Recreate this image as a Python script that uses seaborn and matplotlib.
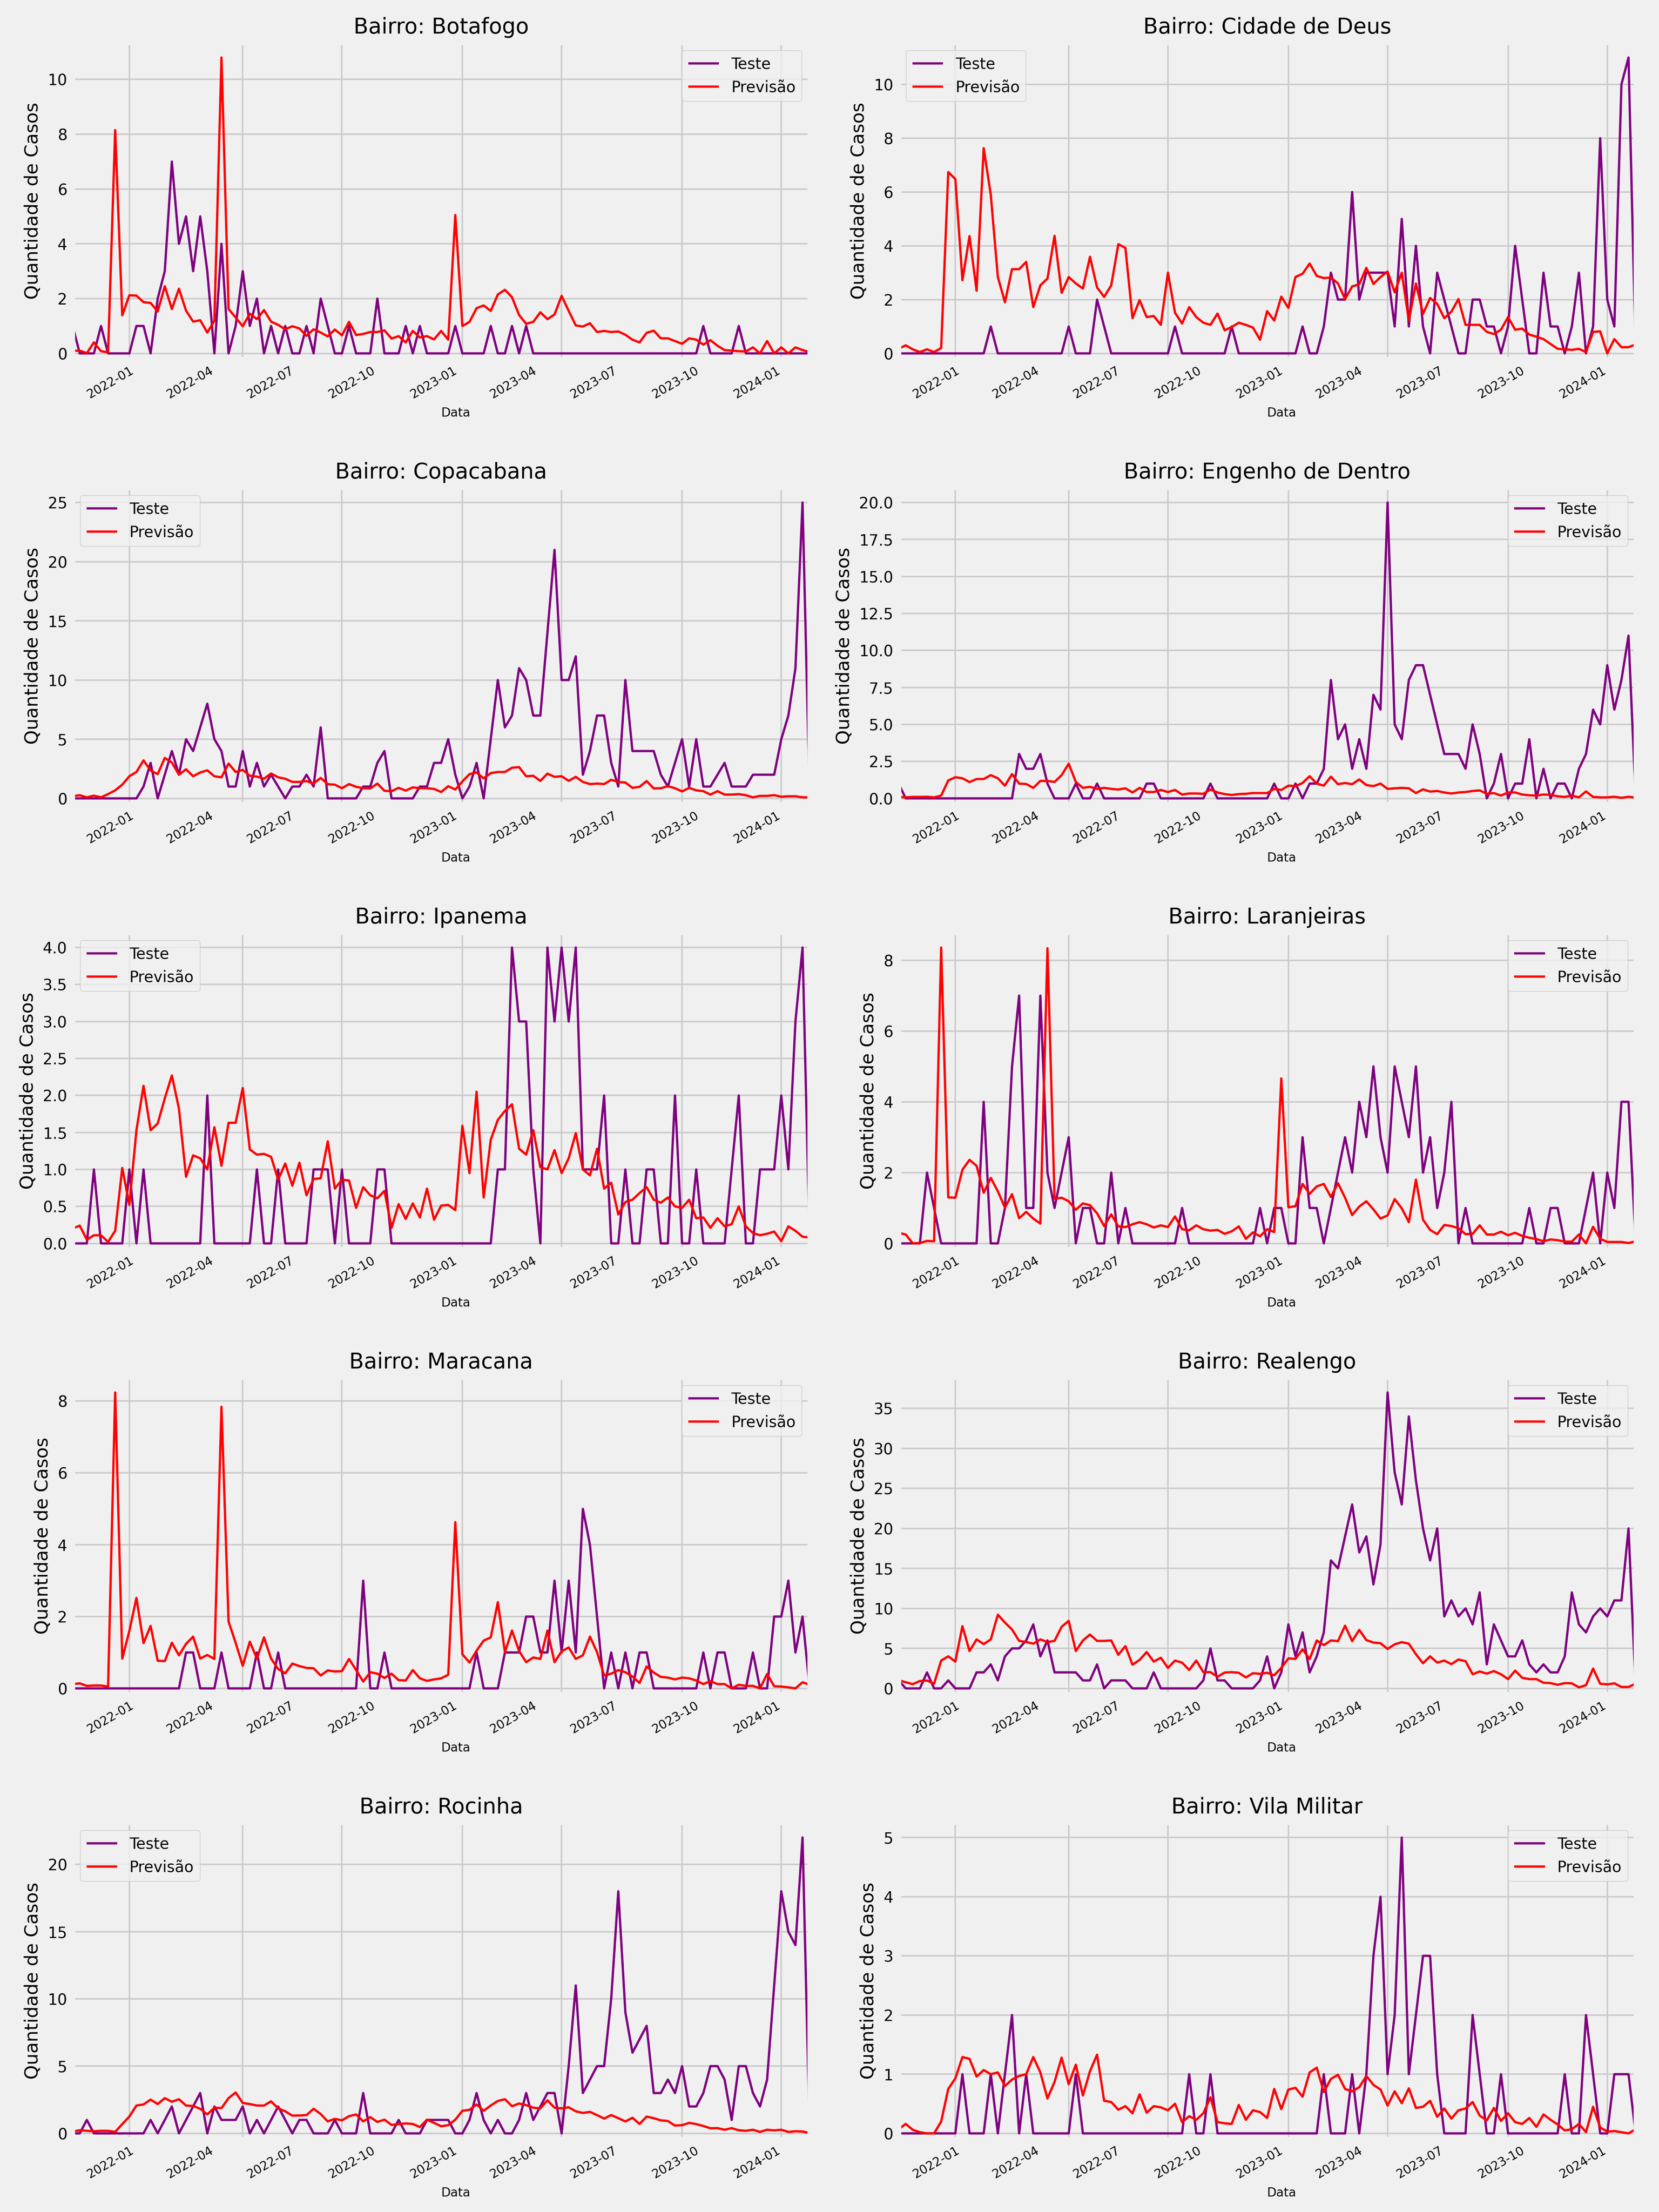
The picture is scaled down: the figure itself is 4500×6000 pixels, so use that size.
# -*- coding: utf-8 -*-
import matplotlib
matplotlib.use('Agg')
import matplotlib.pyplot as plt
import matplotlib.dates as mdates
from matplotlib.ticker import FixedLocator, MaxNLocator
import seaborn as sns
import pandas as pd

# estilo fivethirtyeight (fundo cinza claro, grade cinza, sem marcas de tick)
plt.style.use('fivethirtyeight')
plt.rcParams.update({
    'font.family': ['DejaVu Sans'],
    'legend.fontsize': 10,
})

bairros = ['Botafogo', 'Cidade de Deus', 'Copacabana', 'Engenho de Dentro', 'Ipanema',
           'Laranjeiras', 'Maracana', 'Realengo', 'Rocinha', 'Vila Militar']

# datas do conjunto de teste
datas = pd.date_range('2021-10-22', periods=105, freq='8D')

# pontos do teste onde aparecem as linhas verticais da grade
idx_grade = [8, 24, 38, 55, 69, 86, 100]

pos_legenda = ['upper right', 'upper left', 'upper left', 'upper right', 'upper left',
               'upper right', 'upper right', 'upper right', 'upper left', 'upper right']

# ----------------- valores (casos reais x previsao) -----------------
botafogo_teste = [1, 0, 0, 0, 1, 0, 0, 0, 0, 1, 1, 0, 2, 3, 7, 4, 5, 3, 5, 3,
                  0, 4, 0, 1, 3, 1, 2, 0, 1, 0, 1, 0, 0, 1, 0, 2, 1, 0, 0, 1,
                  0, 0, 0, 2, 0, 0, 0, 1, 0, 1, 0, 0, 0, 0, 1, 0, 0, 0, 0, 1,
                  0, 0, 1, 0, 1, 0, 0, 0, 0, 0, 0, 0, 0, 0, 0, 0, 0, 0, 0, 0,
                  0, 0, 0, 0, 0, 0, 0, 0, 0, 1, 0, 0, 0, 0, 1, 0, 0, 0, 0, 0,
                  0, 0, 0, 0, 0]
botafogo_prev = [0.09, 0.1, 0.01, 0.4, 0.08, 0.04, 8.15, 1.39, 2.12, 2.11,
                 1.87, 1.84, 1.53, 2.45, 1.62, 2.36, 1.56, 1.16, 1.21, 0.76,
                 1.19, 10.8, 1.62, 1.31, 0.99, 1.45, 1.25, 1.58, 1.16, 1.04,
                 0.88, 0.99, 0.91, 0.64, 0.88, 0.76, 0.62, 0.87, 0.66, 1.15,
                 0.67, 0.71, 0.78, 0.78, 0.84, 0.54, 0.63, 0.4, 0.82, 0.58,
                 0.63, 0.51, 0.82, 0.5, 5.05, 1.0, 1.15, 1.65, 1.75, 1.55,
                 2.15, 2.32, 2.05, 1.4, 1.08, 1.15, 1.5, 1.25, 1.42, 2.1,
                 1.55, 1.02, 0.98, 1.1, 0.78, 0.82, 0.78, 0.8, 0.68, 0.5,
                 0.4, 0.75, 0.83, 0.55, 0.55, 0.45, 0.35, 0.55, 0.5, 0.32,
                 0.48, 0.28, 0.12, 0.1, 0.08, 0.07, 0.22, 0.0, 0.45, 0.0,
                 0.22, 0.0, 0.22, 0.12, 0.05]

cidade_teste = [0, 0, 0, 0, 0, 0, 0, 0, 0, 0, 0, 0, 0, 1, 0, 0, 0, 0, 0, 0,
                0, 0, 0, 0, 1, 0, 0, 0, 2, 1, 0, 0, 0, 0, 0, 0, 0, 0, 0, 1,
                0, 0, 0, 0, 0, 0, 0, 1, 0, 0, 0, 0, 0, 0, 0, 0, 0, 1, 0, 0,
                1, 3, 2, 2, 6, 2, 3, 3, 3, 3, 1, 5, 1, 4, 1, 0, 3, 2, 1, 0,
                0, 2, 2, 1, 1, 0, 1, 4, 2, 0, 0, 3, 1, 1, 0, 1, 3, 0, 1, 8,
                2, 1, 10, 11, 0]
cidade_prev = [0.17, 0.3, 0.15, 0.05, 0.15, 0.05, 0.2, 6.74, 6.48, 2.72,
               4.36, 2.33, 7.63, 5.9, 2.84, 1.9, 3.13, 3.13, 3.4, 1.72,
               2.53, 2.78, 4.37, 2.25, 2.84, 2.6, 2.41, 3.59, 2.45, 2.1,
               2.53, 4.06, 3.92, 1.31, 1.98, 1.35, 1.39, 1.06, 3.0, 1.51,
               1.11, 1.72, 1.35, 1.14, 1.06, 1.48, 0.86, 0.98, 1.14, 1.06,
               0.96, 0.51, 1.57, 1.22, 2.11, 1.69, 2.84, 2.96, 3.34, 2.88,
               2.8, 2.82, 2.6, 2.02, 2.49, 2.57, 3.18, 2.58, 2.84, 3.04,
               2.27, 3.0, 1.23, 2.6, 1.47, 2.06, 1.84, 1.31, 1.55, 2.02,
               1.06, 1.06, 1.06, 0.8, 0.72, 0.88, 1.35, 0.88, 0.92, 0.7,
               0.62, 0.53, 0.35, 0.17, 0.15, 0.13, 0.17, 0.05, 0.8, 0.82,
               0.0, 0.53, 0.23, 0.23, 0.33]

copa_teste = [0, 0, 0, 0, 0, 0, 0, 0, 0, 0, 1, 3, 0, 2, 4, 2, 5, 4, 6, 8,
              5, 4, 1, 1, 4, 1, 3, 1, 2, 1, 0, 1, 1, 2, 1, 6, 0, 0, 0, 0,
              0, 1, 1, 3, 4, 0, 0, 0, 0, 1, 1, 3, 3, 5, 2, 0, 1, 3, 0, 5,
              10, 6, 7, 11, 10, 7, 7, 14, 21, 10, 10, 12, 2, 4, 7, 7, 3, 1, 10, 4,
              4, 4, 4, 2, 1, 3, 5, 1, 5, 1, 1, 2, 3, 1, 1, 1, 2, 2, 2, 2,
              5, 7, 11, 25, 0]
copa_prev = [0.18, 0.27, 0.09, 0.23, 0.09, 0.36, 0.68, 1.16, 1.87, 2.23,
             3.21, 2.35, 2.05, 3.42, 3.03, 2.0, 2.46, 1.87, 2.19, 2.37,
             1.87, 1.78, 2.94, 2.23, 2.41, 1.91, 1.84, 1.66, 2.1, 1.78,
             1.66, 1.39, 1.39, 1.46, 1.25, 1.73, 1.2, 1.16, 0.86, 1.21,
             0.98, 0.86, 0.84, 1.25, 0.64, 0.61, 0.89, 0.66, 0.93, 0.86,
             0.86, 0.8, 0.54, 1.03, 0.75, 1.43, 2.05, 2.19, 1.69, 2.14,
             2.23, 2.23, 2.59, 2.64, 1.87, 1.91, 1.48, 2.09, 1.82, 1.87,
             1.48, 1.82, 1.39, 1.21, 1.25, 1.21, 1.57, 1.39, 1.34, 0.89,
             0.98, 1.46, 0.84, 0.86, 1.03, 0.86, 0.59, 0.89, 0.68, 0.61,
             0.32, 0.61, 0.32, 0.32, 0.36, 0.27, 0.09, 0.21, 0.21, 0.27,
             0.14, 0.18, 0.18, 0.09, 0.09]

engenho_teste = [1, 0, 0, 0, 0, 0, 0, 0, 0, 0, 0, 0, 0, 0, 0, 0, 0, 3, 2, 2,
                 3, 1, 0, 0, 0, 1, 0, 0, 1, 0, 0, 0, 0, 0, 0, 1, 1, 0, 0, 0,
                 0, 0, 0, 0, 1, 0, 0, 0, 0, 0, 0, 0, 0, 1, 0, 0, 1, 0, 1, 1,
                 2, 8, 4, 5, 2, 4, 2, 7, 6, 20, 5, 4, 8, 9, 9, 7, 5, 3, 3, 3,
                 2, 5, 3, 0, 1, 3, 0, 1, 1, 4, 0, 2, 0, 1, 1, 0, 2, 3, 6, 5,
                 9, 6, 8, 11, 0]
engenho_prev = [0.1, 0.07, 0.1, 0.1, 0.11, 0.07, 0.19, 1.21, 1.43, 1.36,
                1.1, 1.31, 1.31, 1.57, 1.36, 0.86, 1.64, 1.0, 0.97, 0.71,
                1.18, 1.18, 1.11, 1.57, 2.35, 1.11, 0.71, 0.78, 0.64, 0.71,
                0.64, 0.6, 0.68, 0.4, 0.71, 0.43, 0.43, 0.57, 0.43, 0.57,
                0.26, 0.33, 0.33, 0.31, 0.6, 0.4, 0.29, 0.23, 0.29, 0.31,
                0.36, 0.36, 0.36, 0.64, 0.57, 0.86, 0.83, 1.04, 1.5, 1.0,
                0.86, 1.47, 0.96, 1.04, 0.96, 1.28, 0.9, 0.83, 1.0, 0.64,
                0.68, 0.71, 0.68, 0.36, 0.61, 0.46, 0.5, 0.4, 0.33, 0.4,
                0.43, 0.5, 0.54, 0.31, 0.36, 0.19, 0.4, 0.4, 0.26, 0.21,
                0.19, 0.26, 0.24, 0.14, 0.1, 0.19, 0.07, 0.47, 0.1, 0.07,
                0.07, 0.11, 0.04, 0.11, 0.05]

ipanema_teste = [0, 0, 0, 1, 0, 0, 0, 0, 1, 0, 1, 0, 0, 0, 0, 0, 0, 0, 0, 2,
                 0, 0, 0, 0, 0, 0, 1, 0, 0, 1, 0, 0, 0, 0, 1, 1, 1, 0, 1, 0,
                 0, 0, 0, 1, 1, 0, 0, 0, 0, 0, 0, 0, 0, 0, 0, 0, 0, 0, 0, 0,
                 1, 1, 4, 3, 3, 1, 0, 4, 3, 4, 3, 4, 1, 1, 1, 2, 0, 0, 1, 0,
                 0, 1, 1, 0, 0, 2, 0, 0, 1, 0, 0, 0, 0, 1, 2, 0, 0, 1, 1, 1,
                 2, 1, 3, 4, 0]
ipanema_prev = [0.2, 0.24, 0.05, 0.11, 0.11, 0.02, 0.17, 1.02, 0.52, 1.53,
                2.13, 1.53, 1.62, 1.96, 2.27, 1.82, 0.9, 1.19, 1.15, 1.0,
                1.57, 1.05, 1.63, 1.63, 2.1, 1.27, 1.2, 1.21, 1.17, 0.86,
                1.08, 0.78, 1.09, 0.65, 0.87, 0.88, 1.38, 0.74, 0.86, 0.85,
                0.48, 0.76, 0.65, 0.61, 0.71, 0.21, 0.53, 0.33, 0.54, 0.35,
                0.74, 0.32, 0.51, 0.52, 0.45, 1.59, 0.95, 2.05, 0.62, 1.4,
                1.67, 1.79, 1.88, 1.28, 1.2, 1.53, 1.03, 1.0, 1.26, 0.95,
                1.15, 1.49, 1.0, 0.92, 1.28, 0.74, 0.82, 0.39, 0.56, 0.59,
                0.68, 0.76, 0.59, 0.55, 0.62, 0.5, 0.48, 0.59, 0.34, 0.35,
                0.21, 0.34, 0.23, 0.26, 0.5, 0.23, 0.14, 0.11, 0.13, 0.16,
                0.03, 0.23, 0.17, 0.09, 0.08]

laranjeiras_teste = [0, 0, 0, 0, 2, 1, 0, 0, 0, 0, 0, 0, 4, 0, 0, 1, 5, 7, 1, 1,
                     7, 2, 1, 2, 3, 0, 1, 1, 0, 0, 2, 0, 1, 0, 0, 0, 0, 0, 0, 0,
                     1, 0, 0, 0, 0, 0, 0, 0, 0, 0, 0, 1, 0, 1, 1, 0, 0, 3, 1, 1,
                     0, 1, 2, 3, 2, 4, 3, 5, 3, 2, 5, 4, 3, 5, 2, 3, 1, 2, 4, 0,
                     1, 0, 0, 0, 0, 0, 0, 0, 0, 1, 0, 0, 1, 1, 0, 0, 0, 1, 2, 0,
                     2, 1, 4, 4, 0]
laranjeiras_prev = [0.3, 0.25, 0.0, 0.01, 0.07, 0.06, 8.36, 1.3, 1.29, 2.08,
                    2.36, 2.19, 1.43, 1.85, 1.47, 1.01, 1.39, 0.71, 0.89, 0.7,
                    0.56, 8.34, 1.26, 1.29, 1.19, 0.95, 1.13, 1.08, 0.85, 0.49,
                    0.82, 0.48, 0.46, 0.54, 0.6, 0.54, 0.45, 0.51, 0.46, 0.76,
                    0.4, 0.37, 0.51, 0.4, 0.36, 0.38, 0.27, 0.34, 0.48, 0.13,
                    0.31, 0.2, 0.4, 0.32, 4.66, 1.02, 1.05, 1.68, 1.4, 1.61,
                    1.68, 1.31, 1.7, 1.29, 0.8, 1.04, 1.19, 0.96, 0.7, 0.79,
                    1.25, 0.99, 0.6, 1.8, 0.67, 0.38, 0.26, 0.52, 0.49, 0.43,
                    0.26, 0.27, 0.51, 0.25, 0.25, 0.33, 0.23, 0.3, 0.21, 0.16,
                    0.12, 0.06, 0.11, 0.09, 0.05, 0.05, 0.25, 0.0, 0.47, 0.13,
                    0.04, 0.04, 0.04, 0.01, 0.06]

maracana_teste = [0, 0, 0, 0, 0, 0, 0, 0, 0, 0, 0, 0, 0, 0, 0, 0, 1, 1, 0, 0,
                  0, 1, 0, 0, 0, 0, 1, 0, 0, 1, 0, 0, 0, 0, 0, 0, 0, 0, 0, 0,
                  0, 3, 0, 0, 1, 0, 0, 0, 0, 0, 0, 0, 0, 0, 0, 0, 0, 1, 0, 0,
                  0, 1, 1, 1, 2, 2, 1, 1, 3, 1, 3, 1, 5, 4, 2, 0, 1, 0, 1, 0,
                  1, 1, 0, 0, 0, 0, 0, 0, 0, 1, 0, 1, 1, 0, 0, 0, 1, 0, 0, 2,
                  2, 3, 1, 2, 0]
maracana_prev = [0.12, 0.14, 0.07, 0.08, 0.08, 0.05, 8.24, 0.83, 1.6, 2.52,
                 1.26, 1.74, 0.77, 0.76, 1.27, 0.92, 1.24, 1.44, 0.83, 0.93,
                 0.82, 7.84, 1.86, 1.27, 0.63, 1.3, 0.83, 1.42, 0.83, 0.54,
                 0.42, 0.69, 0.62, 0.57, 0.56, 0.36, 0.5, 0.47, 0.48, 0.82,
                 0.51, 0.19, 0.45, 0.41, 0.29, 0.41, 0.23, 0.22, 0.51, 0.28,
                 0.21, 0.25, 0.28, 0.38, 4.63, 0.95, 0.72, 1.05, 1.33, 1.42,
                 2.4, 1.01, 1.61, 1.04, 0.73, 0.86, 0.82, 1.61, 0.73, 1.03,
                 1.14, 0.82, 0.92, 1.44, 1.01, 0.36, 0.41, 0.51, 0.45, 0.33,
                 0.15, 0.61, 0.44, 0.32, 0.3, 0.25, 0.3, 0.28, 0.22, 0.12,
                 0.2, 0.12, 0.12, 0.0, 0.1, 0.07, 0.07, 0.0, 0.4, 0.06,
                 0.05, 0.03, 0.0, 0.17, 0.1]

realengo_teste = [1, 0, 0, 0, 2, 0, 0, 1, 0, 0, 0, 2, 2, 3, 1, 4, 5, 5, 6, 8,
                  4, 6, 2, 2, 2, 2, 1, 1, 3, 0, 1, 1, 1, 0, 0, 0, 2, 0, 0, 0,
                  0, 0, 0, 1, 5, 1, 1, 0, 0, 0, 0, 1, 4, 0, 2, 8, 4, 7, 2, 4,
                  7, 16, 15, 19, 23, 17, 19, 13, 18, 37, 27, 23, 34, 26, 20, 16, 20, 9, 11, 9,
                  10, 8, 12, 3, 8, 6, 4, 4, 6, 3, 2, 3, 2, 2, 4, 12, 8, 7, 9, 10,
                  9, 11, 11, 20, 0]
realengo_prev = [1.03, 0.77, 0.53, 0.92, 0.98, 0.58, 3.48, 4.01, 3.35, 7.78,
                 4.67, 6.12, 5.54, 6.12, 9.21, 8.23, 7.36, 5.94, 5.8, 5.59,
                 6.12, 5.8, 5.94, 7.7, 8.44, 4.67, 5.99, 6.73, 5.94, 5.94,
                 5.99, 4.2, 5.28, 2.96, 3.56, 4.54, 3.35, 3.83, 2.56, 3.48,
                 3.22, 2.3, 3.48, 2.03, 2.03, 1.45, 1.98, 2.03, 1.95, 1.37,
                 1.9, 1.82, 1.95, 1.64, 2.56, 3.75, 3.69, 4.88, 3.67, 5.99,
                 5.41, 5.99, 5.91, 7.84, 5.91, 7.31, 6.04, 5.73, 5.65, 4.93,
                 5.51, 5.78, 5.59, 4.27, 3.14, 4.01, 3.22, 3.48, 3.03, 3.61,
                 3.4, 1.77, 2.11, 1.85, 2.16, 1.77, 1.16, 2.22, 1.32, 1.16,
                 1.16, 0.71, 0.66, 0.45, 0.66, 0.63, 0.13, 0.4, 2.48, 0.58,
                 0.5, 0.63, 0.18, 0.18, 0.58]

rocinha_teste = [0, 0, 1, 0, 0, 0, 0, 0, 0, 0, 0, 1, 0, 1, 2, 0, 1, 2, 3, 0,
                 2, 1, 1, 1, 2, 0, 1, 0, 1, 2, 1, 0, 1, 1, 0, 0, 0, 1, 0, 0,
                 0, 3, 0, 0, 0, 0, 1, 0, 0, 0, 1, 1, 1, 1, 0, 0, 1, 3, 1, 0,
                 1, 0, 0, 1, 3, 1, 2, 3, 3, 0, 5, 11, 3, 4, 5, 5, 10, 18, 9, 6,
                 7, 8, 3, 3, 4, 3, 5, 2, 2, 3, 5, 5, 4, 1, 5, 5, 3, 2, 4, 11,
                 18, 15, 14, 22, 0]
rocinha_prev = [0.14, 0.23, 0.19, 0.16, 0.19, 0.19, 0.11, 0.69, 1.25, 2.07,
                2.15, 2.51, 2.18, 2.62, 2.35, 2.54, 2.07, 2.04, 1.83, 1.41,
                1.91, 1.88, 2.62, 3.04, 2.26, 2.18, 2.07, 2.07, 2.38, 1.86,
                1.64, 1.32, 1.33, 1.36, 1.83, 1.44, 0.89, 1.08, 0.97, 1.28,
                1.41, 0.89, 1.21, 0.85, 1.02, 0.63, 0.69, 0.74, 0.7, 0.47,
                1.02, 0.78, 0.53, 0.61, 1.02, 1.68, 1.75, 2.15, 1.68, 2.07,
                2.41, 2.54, 2.02, 2.22, 2.1, 1.91, 1.86, 2.46, 1.91, 1.86,
                1.94, 1.64, 1.52, 1.6, 1.36, 1.1, 1.36, 1.13, 0.89, 1.16,
                0.7, 1.25, 1.13, 0.97, 0.92, 0.58, 0.61, 0.78, 0.69, 0.55,
                0.38, 0.39, 0.27, 0.39, 0.23, 0.19, 0.27, 0.11, 0.27, 0.22,
                0.27, 0.11, 0.16, 0.14, 0.03]

vila_teste = [0, 0, 0, 0, 0, 0, 0, 0, 0, 1, 0, 0, 0, 1, 0, 1, 2, 0, 1, 0,
              0, 0, 0, 0, 0, 1, 0, 0, 0, 0, 0, 0, 0, 0, 0, 0, 0, 0, 0, 0,
              0, 1, 0, 0, 1, 0, 0, 0, 0, 0, 0, 0, 0, 0, 0, 0, 0, 0, 0, 0,
              1, 0, 0, 0, 1, 0, 1, 3, 4, 1, 2, 5, 1, 2, 3, 3, 1, 0, 0, 0,
              0, 2, 1, 0, 0, 1, 0, 0, 0, 0, 0, 0, 0, 0, 1, 0, 0, 2, 1, 0,
              0, 1, 1, 1, 0]
vila_prev = [0.07, 0.16, 0.06, 0.02, 0.0, 0.0, 0.2, 0.75, 0.93, 1.29,
             1.26, 0.96, 1.07, 1.0, 1.03, 0.8, 0.91, 0.97, 1.0, 1.29,
             1.03, 0.59, 0.87, 1.28, 0.83, 1.16, 0.64, 1.05, 1.33, 0.55,
             0.53, 0.4, 0.46, 0.34, 0.66, 0.35, 0.46, 0.44, 0.39, 0.5,
             0.19, 0.29, 0.23, 0.34, 0.61, 0.19, 0.17, 0.16, 0.48, 0.23,
             0.39, 0.36, 0.26, 0.75, 0.41, 0.74, 0.77, 0.62, 1.03, 1.11,
             0.7, 0.92, 0.99, 0.75, 0.71, 0.78, 0.97, 0.82, 0.74, 0.47,
             0.71, 0.51, 0.76, 0.43, 0.45, 0.55, 0.28, 0.42, 0.25, 0.39,
             0.42, 0.53, 0.3, 0.22, 0.43, 0.21, 0.34, 0.19, 0.16, 0.26,
             0.11, 0.32, 0.23, 0.15, 0.05, 0.07, 0.16, 0.02, 0.45, 0.1,
             0.03, 0.04, 0.02, 0.0, 0.07]
# --------------------------------------------------------------------

teste = [botafogo_teste, cidade_teste, copa_teste, engenho_teste, ipanema_teste,
         laranjeiras_teste, maracana_teste, realengo_teste, rocinha_teste, vila_teste]
previsao = [botafogo_prev, cidade_prev, copa_prev, engenho_prev, ipanema_prev,
            laranjeiras_prev, maracana_prev, realengo_prev, rocinha_prev, vila_prev]

fig, axes = plt.subplots(5, 2, figsize=(15, 20))
fig.subplots_adjust(left=0.0438, right=0.9859, bottom=0.033, top=0.9807,
                    wspace=0.1208, hspace=0.4068)

for i, ax in enumerate(axes.flat):
    df = pd.DataFrame({'Data': datas, 'Teste': teste[i], 'Previsão': previsao[i]})
    sns.lineplot(data=df, x='Data', y='Teste', ax=ax, color='purple', linewidth=1.5, label='Teste')
    sns.lineplot(data=df, x='Data', y='Previsão', ax=ax, color='red', linewidth=1.5, label='Previsão')

    ax.set_title(f'Bairro: {bairros[i]}', fontsize=14)
    ax.set_ylabel('Quantidade de Casos', fontsize=12)
    ax.set_xlabel('Data', fontsize=8, ha='left')

    # eixo x: rotulos trimestrais, grade vertical em pontos do teste
    ax.xaxis.set_major_locator(mdates.MonthLocator(bymonth=[1, 4, 7, 10]))
    ax.xaxis.set_major_formatter(mdates.DateFormatter('%Y-%m'))
    ax.xaxis.set_minor_locator(FixedLocator(mdates.date2num(datas[idx_grade])))
    ax.grid(False, axis='x', which='major')
    ax.grid(True, axis='x', which='minor')
    ax.tick_params(axis='x', which='major', labelsize=8, labelrotation=30)
    ax.tick_params(axis='y', labelsize=10)
    plt.setp(ax.get_xticklabels(), ha='right')

    # ticks do eixo y escolhidos como na margem padrao (5%), limite inferior mais justo
    m = max(max(teste[i]), max(previsao[i]))
    yticks = MaxNLocator(nbins=9, steps=[1, 2, 2.5, 5, 10]).tick_values(-0.05 * m, 1.05 * m)
    ax.yaxis.set_major_locator(FixedLocator(yticks))
    ax.set_xlim(datas[0], datas[-1])
    ax.set_ylim(-0.019 * m, 1.05 * m)

    ax.legend(loc=pos_legenda[i], fontsize=10)

fig.savefig('out.png', dpi=300, facecolor=fig.get_facecolor())
plt.close(fig)
